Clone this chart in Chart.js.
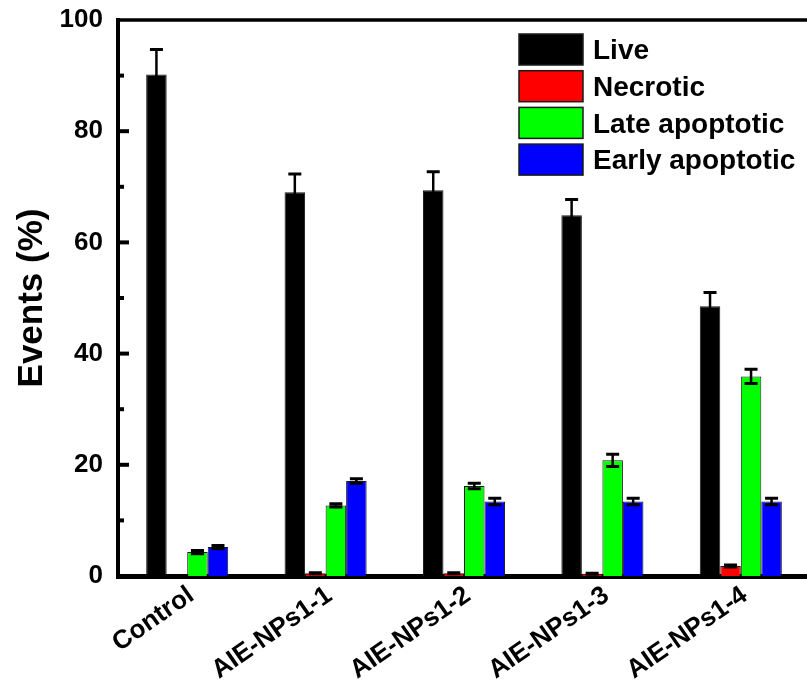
<!DOCTYPE html>
<html>
<head>
<meta charset="utf-8">
<script src="https://cdn.jsdelivr.net/npm/chart.js@4.4.1/dist/chart.umd.min.js"></script>
<style>
  html, body { margin: 0; padding: 0; background: #fff; overflow: hidden; }
  #wrap { width: 807px; height: 681px; overflow: hidden; }
</style>
</head>
<body>
<div id="wrap"><canvas id="chart" width="812" height="681"></canvas></div>
<script>
// Flow cytometry populations per group (%)
const categories = ['Control', 'AIE-NPs1-1', 'AIE-NPs1-2', 'AIE-NPs1-3', 'AIE-NPs1-4'];

const live        = [90.2, 69.0, 69.4, 64.9, 48.5];
const liveErr     = [4.5, 3.3, 3.3, 2.8, 2.5];
const necrotic    = [0.0, 0.5, 0.5, 0.4, 1.8];
const necroticErr = [0.0, 0.1, 0.1, 0.1, 0.2];
const late        = [4.3, 12.7, 16.2, 20.8, 35.9];
const lateErr     = [0.3, 0.3, 0.5, 1.1, 1.3];
const early       = [5.2, 17.1, 13.4, 13.4, 13.4];
const earlyErr    = [0.3, 0.4, 0.6, 0.6, 0.6];

const yTicks = [0, 20, 40, 60, 80, 100];

const FONT = "'Liberation Sans', Arial, sans-serif";

function series(label, data, err, color) {
    return {
        label: label,
        data: data,
        errors: err,
        backgroundColor: color,
        borderColor: '#1a1a1a',
        borderWidth: 1,
        borderSkipped: 'bottom',
        barPercentage: 1.0,
        categoryPercentage: 0.593
    };
}

// error bars: stem + caps, drawn from the value scale
const errorBars = {
    id: 'errorBars',
    afterDatasetsDraw(chart) {
        const ctx = chart.ctx;
        const y = chart.scales.y;
        ctx.save();
        ctx.strokeStyle = '#000';
        chart.data.datasets.forEach((ds, i) => {
            const meta = chart.getDatasetMeta(i);
            meta.data.forEach((bar, j) => {
                const err = ds.errors[j];
                if (!err) return;
                const v = ds.data[j];
                const top = y.getPixelForValue(v + err);
                const bot = y.getPixelForValue(Math.max(v - err, 0));
                const half = 6.5;
                ctx.lineWidth = 2.5;
                ctx.beginPath();
                ctx.moveTo(bar.x, top);
                ctx.lineTo(bar.x, bot);
                ctx.stroke();
                ctx.lineWidth = 3;
                ctx.beginPath();
                ctx.moveTo(bar.x - half, top);
                ctx.lineTo(bar.x + half, top);
                ctx.moveTo(bar.x - half, bot);
                ctx.lineTo(bar.x + half, bot);
                ctx.stroke();
            });
        });
        ctx.restore();
    }
};

// top frame line and inward major/minor ticks on the y axis
const frameTicks = {
    id: 'frameTicks',
    afterDraw(chart) {
        const ctx = chart.ctx;
        const area = chart.chartArea;
        const y = chart.scales.y;
        ctx.save();
        ctx.strokeStyle = '#000';
        ctx.lineWidth = 3.5;
        ctx.beginPath();
        ctx.moveTo(area.left - 2, area.top);
        ctx.lineTo(area.right + 2, area.top);
        ctx.stroke();
        ctx.lineWidth = 4;
        y.ticks.forEach(t => {
            const py = y.getPixelForValue(t.value);
            const len = t.value % 20 === 0 ? 11 : 6;
            if (t.value === 0 || t.value === 100) return;
            ctx.beginPath();
            ctx.moveTo(area.left, py);
            ctx.lineTo(area.left + len, py);
            ctx.stroke();
        });
        ctx.restore();
    }
};

// vertical legend sitting inside the plot, upper right
const boxLegend = {
    id: 'boxLegend',
    afterDraw(chart) {
        const ctx = chart.ctx;
        const x0 = 519, y0 = 34, bw = 64, bh = 31, step = 36.7;
        ctx.save();
        ctx.font = 'bold 28px ' + FONT;
        ctx.textBaseline = 'middle';
        ctx.textAlign = 'left';
        chart.data.datasets.forEach((ds, i) => {
            const top = y0 + i * step;
            ctx.fillStyle = ds.backgroundColor;
            ctx.fillRect(x0, top, bw, bh);
            ctx.lineWidth = 1.5;
            ctx.strokeStyle = '#1a1a1a';
            ctx.strokeRect(x0, top, bw, bh);
            ctx.fillStyle = '#000';
            ctx.fillText(ds.label, 593, top + bh / 2 + 2);
        });
        ctx.restore();
    }
};

const ctx = document.getElementById('chart').getContext('2d');

new Chart(ctx, {
    type: 'bar',
    data: {
        labels: categories,
        datasets: [
            series('Live', live, liveErr, '#000000'),
            series('Necrotic', necrotic, necroticErr, '#ff0000'),
            series('Late apoptotic', late, lateErr, '#00ff00'),
            series('Early apoptotic', early, earlyErr, '#0000ff')
        ]
    },
    options: {
        responsive: false,
        animation: false,
        devicePixelRatio: 1,
        layout: { padding: { top: 20, left: 0, right: 2, bottom: 0 } },
        plugins: {
            legend: { display: false },
            tooltip: { enabled: false }
        },
        scales: {
            x: {
                grid: { display: false, drawTicks: false },
                border: { display: true, color: '#000', width: 5 },
                ticks: {
                    color: '#000',
                    font: { family: FONT, size: 26, weight: 'bold' },
                    minRotation: 35,
                    maxRotation: 35,
                    padding: 4,
                    labelOffset: 4,
                    autoSkip: false
                },
                afterFit: s => {
                    s.height = 105;
                    s.paddingLeft = 0;
                    s.paddingRight = 0;
                }
            },
            y: {
                min: 0,
                max: 100,
                grid: { display: false, drawTicks: false },
                border: { display: true, color: '#000', width: 4 },
                ticks: {
                    stepSize: 10,
                    color: '#000',
                    padding: 15,
                    font: { family: FONT, size: 26, weight: 'bold' },
                    callback: v => yTicks.includes(v) ? v : ''
                },
                title: {
                    display: true,
                    text: 'Events (%)',
                    color: '#000',
                    font: { family: FONT, size: 35, weight: 'bold' },
                    padding: { top: 11, bottom: 0 }
                },
                afterFit: s => {
                    s.width = 118;
                    s.paddingTop = 0;
                    s.paddingBottom = 0;
                }
            }
        }
    },
    plugins: [errorBars, frameTicks, boxLegend]
});
</script>
</body>
</html>
